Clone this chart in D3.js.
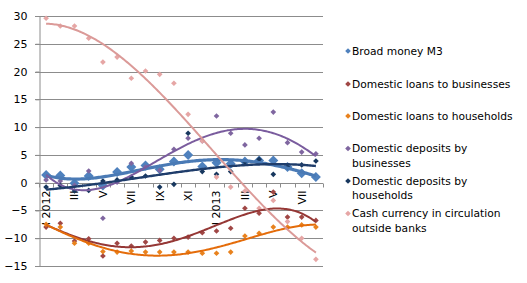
<!DOCTYPE html>
<html>
<head>
<meta charset="utf-8">
<script src="https://cdn.jsdelivr.net/npm/d3@7"></script>
<style>
  body { margin: 0; background: #fff; }
  svg { display: block; font-family: "DejaVu Sans", Verdana, sans-serif; }
</style>
</head>
<body>
<div id="chart"></div>
<script>
const months = ["I 2012", "II", "III", "IV", "V", "VI", "VII", "VIII", "IX", "X", "XI", "XII",
  "I 2013", "II", "III", "IV", "V", "VI", "VII", "VIII"];
const yTicks = [-15, -10, -5, 0, 5, 10, 15, 20, 25, 30];

const broadMoney = [1.4, 1.3, -0.1, 1.2, -0.5, 1.9, 2.8, 3.1, 2.4, 3.8, 5.0, 2.9, 3.6, 3.4, 3.8, 4.0, 4.0, 2.8, 1.7, 1.0];
const loansBusinesses = [-8.0, -7.3, -10.5, -10.1, -13.2, -10.9, -11.4, -10.7, -10.4, -10.0, -9.8, -9.0, -8.7, -8.2, -4.6, -5.5, -1.7, -6.2, -6.2, -6.8];
const loansHouseholds = [-7.5, -8.0, -10.9, -10.9, -12.4, -12.5, -12.3, -12.5, -12.5, -12.5, -12.5, -12.7, -12.7, -12.5, -9.6, -9.1, -8.0, -8.0, -7.6, -8.0];
const depositsBusinesses = [0.5, 0.3, -0.5, 2.1, -6.4, 0.1, 3.5, 2.8, 2.2, 6.0, 8.0, 7.5, 12.0, 8.9, 6.8, 8.0, 12.7, 7.2, 5.5, 5.2];
const depositsHouseholds = [-0.8, -0.5, -1.5, -1.4, 0.3, 0.5, 1.0, 1.2, -0.8, -0.3, 8.9, 2.0, 1.5, 2.0, 3.7, 4.2, 1.5, 2.8, 3.2, 3.9];
const cashCurrency = [29.6, 28.2, 28.2, 26.0, 21.7, 22.6, 18.8, 20.1, 19.5, 17.9, 12.3, 7.5, 1.0, -0.8, -1.5, -4.6, -3.2, -7.0, -10.0, -13.8];

const series = [
  { name: ["Broad money M3"], values: broadMoney, marker: "#4F81BD", line: "#4A7AB5", big: true, order: 4, width: 3.2 },
  { name: ["Domestic loans to businesses"], values: loansBusinesses, marker: "#A04745", line: "#953735", order: 4, width: 2 },
  { name: ["Domestic loans to households"], values: loansHouseholds, marker: "#E8821E", line: "#E46C0A", order: 4, width: 2 },
  { name: ["Domestic deposits by", "businesses"], values: depositsBusinesses, marker: "#7F66A0", line: "#7A5C9E", order: 4, width: 2 },
  { name: ["Domestic deposits by", "households"], values: depositsHouseholds, marker: "#17375E", line: "#1F3D6B", order: 3, width: 2.4 },
  { name: ["Cash currency in circulation", "outside banks"], values: cashCurrency, marker: "#E6A6A5", line: "#DB9A98", order: 3, width: 2 }
];

// least squares polynomial, like the excel trendline (x = 1..n)
function polyfit(ys, order) {
  const n = order + 1;
  const A = Array.from({ length: n }, () => new Array(n + 1).fill(0));
  ys.forEach((v, i) => {
    const t = i + 1;
    for (let r = 0; r < n; r++) {
      for (let c = 0; c < n; c++) A[r][c] += Math.pow(t, r + c);
      A[r][n] += v * Math.pow(t, r);
    }
  });
  for (let k = 0; k < n; k++) {
    let p = k;
    for (let r = k + 1; r < n; r++) if (Math.abs(A[r][k]) > Math.abs(A[p][k])) p = r;
    [A[k], A[p]] = [A[p], A[k]];
    for (let r = 0; r < n; r++) {
      if (r === k) continue;
      const f = A[r][k] / A[k][k];
      for (let c = k; c <= n; c++) A[r][c] -= f * A[k][c];
    }
  }
  const coef = A.map((row, k) => row[n] / row[k]);
  return t => coef.reduce((s, c, k) => s + c * Math.pow(t, k), 0);
}

const width = 527, height = 283;
const plot = { left: 39, right: 323, top: 16, bottom: 266 };

const svg = d3.select("#chart").append("svg")
  .attr("width", width)
  .attr("height", height);

const x = d3.scaleBand()
  .domain(d3.range(months.length))
  .range([plot.left, plot.right])
  .padding(0);

const y = d3.scaleLinear()
  .domain([-15, 30])
  .range([plot.bottom, plot.top]);

const cx = i => x(i) + x.bandwidth() / 2;

// gridlines
svg.append("g")
  .selectAll("line")
  .data(yTicks)
  .enter().append("line")
  .attr("x1", plot.left - 4)
  .attr("x2", plot.right)
  .attr("y1", d => Math.round(y(d)) + 0.5)
  .attr("y2", d => Math.round(y(d)) + 0.5)
  .attr("stroke", "#8c8c8c")
  .attr("stroke-width", 1);

// y axis
const yAxis = svg.append("g")
  .attr("transform", `translate(${plot.left + 0.5},0)`)
  .call(d3.axisLeft(y).tickValues(yTicks).tickSize(4).tickPadding(8));
yAxis.select(".domain").attr("stroke", "#8c8c8c");
yAxis.selectAll(".tick line").attr("stroke", "#8c8c8c");
yAxis.selectAll("text")
  .attr("font-size", "11px")
  .attr("font-family", "DejaVu Sans, Verdana, sans-serif")
  .attr("fill", "#000");

// x axis at zero
const x0 = Math.round(y(0)) + 0.5;
svg.append("line")
  .attr("x1", plot.left).attr("x2", plot.right)
  .attr("y1", x0).attr("y2", x0)
  .attr("stroke", "#8c8c8c");
svg.append("g")
  .selectAll("line")
  .data(d3.range(months.length + 1))
  .enter().append("line")
  .attr("x1", d => Math.round(plot.left + d * x.bandwidth()) + 0.5)
  .attr("x2", d => Math.round(plot.left + d * x.bandwidth()) + 0.5)
  .attr("y1", x0)
  .attr("y2", x0 + 4)
  .attr("stroke", "#8c8c8c");

svg.append("g")
  .selectAll("text")
  .data(months.map((m, i) => ({ m, i })).filter(d => d.i % 2 === 0))
  .enter().append("text")
  .attr("transform", d => `translate(${cx(d.i)},${x0 + 7}) rotate(-90)`)
  .attr("text-anchor", "end")
  .attr("dy", "0.36em")
  .attr("font-size", "11px")
  .text(d => d.m);

// markers
const diamond = size => d3.symbol().type(d3.symbolSquare).size(size);

series.forEach(s => {
  svg.append("g")
    .selectAll("path")
    .data(s.values)
    .enter().append("path")
    .attr("d", diamond(s.big ? 50 : 16)())
    .attr("transform", (d, i) => `translate(${cx(i)},${y(d)}) rotate(45)`)
    .attr("fill", s.marker);
});

// trendlines
const line = d3.line()
  .x(d => d[0])
  .y(d => d[1]);

series.forEach(s => {
  const f = polyfit(s.values, s.order);
  const pts = d3.range(0, s.values.length - 1 + 0.001, 0.1)
    .map(t => [cx(0) + t * x.bandwidth(), y(f(t + 1))]);
  svg.append("path")
    .attr("d", line(pts))
    .attr("fill", "none")
    .attr("stroke", s.line)
    .attr("stroke-width", s.width)
    .attr("stroke-linejoin", "round");
});

// legend
const legendRows = [51, 84, 116, 148.5, 181, 213.5];
const legend = svg.append("g");
series.forEach((s, k) => {
  legend.append("path")
    .attr("d", diamond(16)())
    .attr("transform", `translate(348,${legendRows[k]}) rotate(45)`)
    .attr("fill", s.marker);
  s.name.forEach((t, j) => {
    legend.append("text")
      .attr("x", 352)
      .attr("y", legendRows[k] + j * 14.5)
      .attr("dy", "0.36em")
      .attr("font-size", "10.7px")
      .text(t);
  });
});
</script>
</body>
</html>
